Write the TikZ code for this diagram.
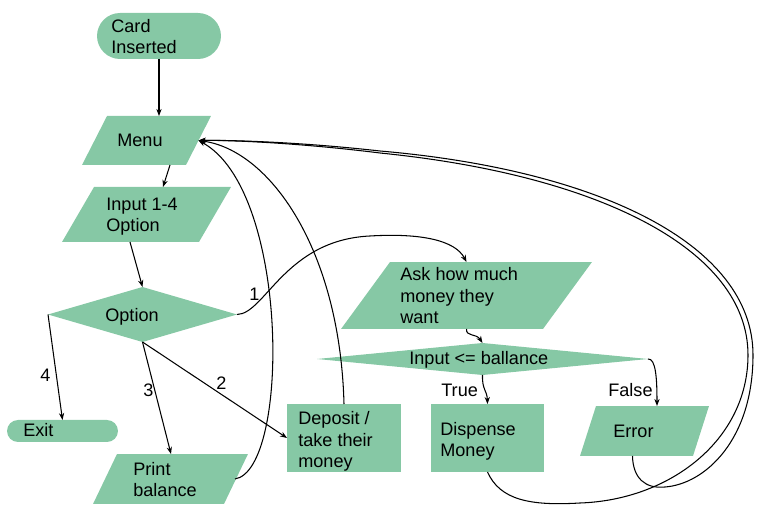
\documentclass[tikz,border=0pt]{standalone}
\usepackage{fontspec}
\setmainfont{Liberation Sans}
\usetikzlibrary{arrows.meta,calc}
\definecolor{mint}{RGB}{134,200,165}
\newcommand{\parafill}[2]{\fill[mint] (#1.south west) -- ($(#1.south east)+(-#2,0)$) -- (#1.north east) -- ($(#1.north west)+(#2,0)$) -- cycle;}
\newcommand{\diafill}[1]{\fill[mint] (#1.west) -- (#1.north) -- (#1.east) -- (#1.south) -- cycle;}
\begin{document}
\begin{tikzpicture}[x=0.02cm,y=-0.02cm,
  box/.style={fill=mint, draw=none, inner sep=0pt, outer sep=0pt},
  term/.style={box, rectangle},
  frame/.style={rectangle, draw=none, inner sep=0pt, outer sep=0pt},
  proc/.style={box, rectangle},
  txt/.style={anchor=base west, inner sep=0pt, align=left, font=\fontsize{10.3}{12.5}\selectfont},
  conn/.style={line width=0.6pt, -{Stealth[length=4pt,width=3pt]}},
]
\useasboundingbox (0,0) rectangle (758,516);

% shapes
\node[term, minimum width=2.48cm, minimum height=0.92cm, rounded corners=0.46cm] (card) at (159,36) {};
\node[frame, minimum width=2.58cm, minimum height=0.98cm] (menu) at (146.5,140.5) {};
\node[frame, minimum width=3.38cm, minimum height=1.10cm] (input) at (146.5,214.5) {};
\node[frame, minimum width=3.78cm, minimum height=1.10cm] (option) at (142.5,314.5) {};
\node[term, minimum width=2.22cm, minimum height=0.44cm, rounded corners=0.22cm] (exit) at (62.5,431) {};
\node[frame, minimum width=3.10cm, minimum height=1.00cm] (print) at (170.5,479) {};
\node[proc, minimum width=2.28cm, minimum height=1.36cm] (deposit) at (344,438) {};
\node[frame, minimum width=5.02cm, minimum height=1.34cm] (ask) at (466.5,295.5) {};
\node[frame, minimum width=6.62cm, minimum height=0.64cm] (cond) at (482.5,359) {};
\node[proc, minimum width=2.26cm, minimum height=1.36cm] (disp) at (487.5,438) {};
\node[frame, minimum width=2.58cm, minimum height=1.00cm] (err) at (644.5,431) {};

\parafill{menu}{25}
\parafill{input}{32}
\parafill{print}{24}
\parafill{ask}{49}
\parafill{err}{16}
\diafill{option}
\diafill{cond}

% texts (anchor = baseline of the last line)
\node[txt] (tcard) at (111,54) {Card\\Inserted};
\node[txt] (tmenu) at (117,147) {Menu};
\node[txt] (tinput) at (106,232) {Input 1-4\\Option};
\node[txt] (topt) at (105,322) {Option};
\node[txt] (texit) at (23,437) {Exit};
\node[txt] (tprint) at (133,497) {Print\\balance};
\node[txt] (tdep) at (298,468) {Deposit /\\take their\\money};
\node[txt] (task) at (400,324) {Ask how much\\money they\\want};
\node[txt] (tcond) at (409,365) {Input <= ballance};
\node[txt] (tdisp) at (440,457) {Dispense\\Money};
\node[txt] (terr) at (613,438) {Error};

% edge labels
\node[txt] (l1) at (249,301) {1};
\node[txt] (l2) at (216,390) {2};
\node[txt] (l3) at (143,397) {3};
\node[txt] (l4) at (40,382) {4};
\node[txt] (ltrue) at (441,397) {True};
\node[txt] (lfalse) at (608,397) {False};

% anchor points
\coordinate (mE) at ($(menu.center)+(52,0)$);
\coordinate (mS) at ($(menu.center)+(23.5,24.5)$);
\coordinate (iN) at ($(input.center)+(16.5,-27.5)$);
\coordinate (iS) at ($(input.center)+(-16.5,27.5)$);
\coordinate (pN) at ($(print.center)+(0.5,-25)$);
\coordinate (pE) at ($(print.center)+(64.5,0)$);
\coordinate (aN) at ($(ask.center)+(0,-33.5)$);
\coordinate (aS) at ($(ask.center)+(0,33.5)$);
\coordinate (eN) at ($(err.center)+(12.5,-25)$);
\coordinate (eS) at ($(err.center)+(-12,25)$);
\coordinate (mN) at ($(card.south |- menu.north)$);

% connectors
\draw[conn] (card.south) -- (mN);
\draw[conn] (mS) -- (iN);
\draw[conn] (iS) -- (option.north);
\draw[conn] (option.west) -- (exit.north);
\draw[conn] (option.south) -- (pN);
\draw[conn] (option.south) -- (deposit.west);
\draw[conn] (option.east) .. controls (265,314) and (285,240) .. (370,236) .. controls (420,233) and (455,240) .. (aN);
\draw[conn] (aS) .. controls (466,337) and (476,333) .. (cond.north);
\draw[conn] (cond.south) .. controls (482,390) and (487,390) .. (disp.north);
\draw[conn] (cond.east) .. controls (656,358) and (657,380) .. (eN);
\draw[conn] (pE) .. controls (290,470) and (290,190) .. (mE);
\draw[conn] (deposit.north) .. controls (340,250) and (270,150) .. (mE);
\draw[conn] (disp.south) .. controls (500,500) and (530,506) .. (580,503) .. controls (670,500) and (748,440) .. (748,355) .. controls (748,250) and (600,175) .. (380,153) .. controls (300,143) and (230,140) .. (mE);
\draw[conn] (eS) .. controls (633,478) and (645,489) .. (665,487) .. controls (705,484) and (753,440) .. (753,355) .. controls (753,245) and (600,170) .. (380,151) .. controls (300,142) and (230,140) .. (mE);
\end{tikzpicture}
\end{document}
